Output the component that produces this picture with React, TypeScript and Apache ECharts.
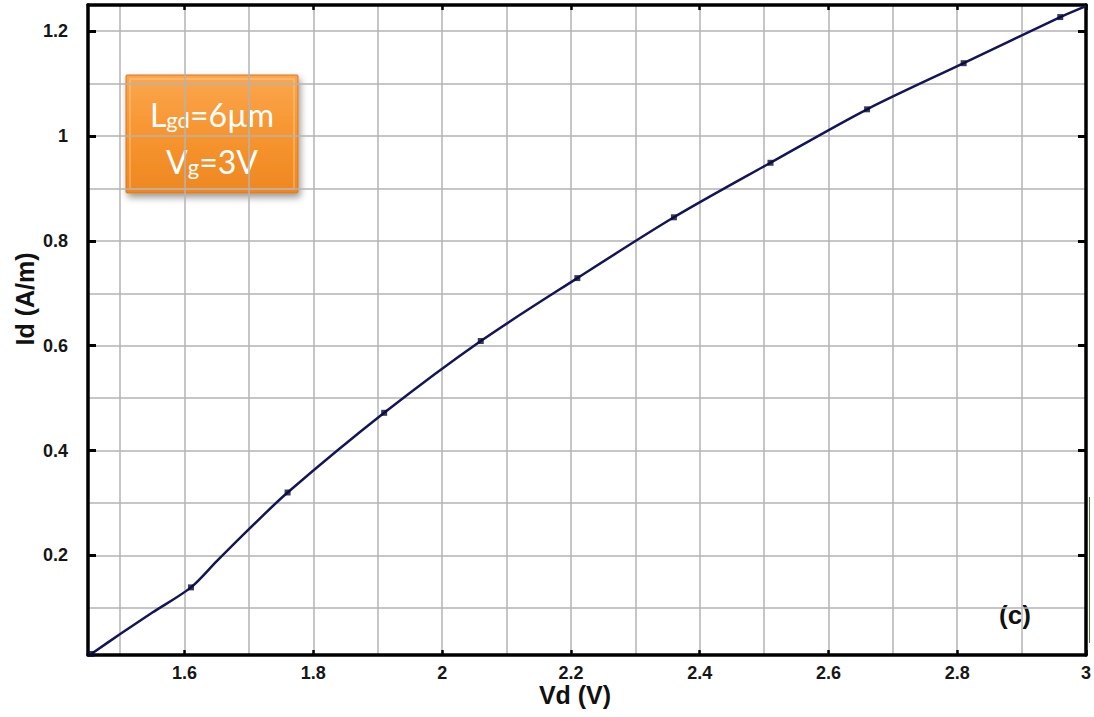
import React, { useEffect, useRef } from "react";
import * as echarts from "echarts";

// Simulated drain current curve (Vd in V, Id in A/m)
const vdCurve = [1.455, 1.5, 1.55, 1.61, 1.65, 1.7, 1.76, 1.91, 2.06, 2.21, 2.36, 2.51, 2.66, 2.81, 2.96, 3.0];
const idCurve = [0.012, 0.05, 0.091, 0.139, 0.189, 0.25, 0.32, 0.472, 0.609, 0.729, 0.845, 0.949, 1.051, 1.139, 1.227, 1.248];

// Sample markers along the curve
const vdMarkers = [1.455, 1.61, 1.76, 1.91, 2.06, 2.21, 2.36, 2.51, 2.66, 2.81, 2.96];
const idMarkers = [0.012, 0.139, 0.32, 0.472, 0.609, 0.729, 0.845, 0.949, 1.051, 1.139, 1.227];

// Axis ticks
const vdMajor = [1.6, 1.8, 2, 2.2, 2.4, 2.6, 2.8, 3];
const vdMinor = [1.5, 1.6, 1.7, 1.8, 1.9, 2, 2.1, 2.2, 2.3, 2.4, 2.5, 2.6, 2.7, 2.8, 2.9];
const idMajor = [0.2, 0.4, 0.6, 0.8, 1, 1.2];
const idMinor = [0.1, 0.2, 0.3, 0.4, 0.5, 0.6, 0.7, 0.8, 0.9, 1, 1.1, 1.2];

const X_MIN = 1.45;
const X_MAX = 3;
const Y_MIN = 0.01;
const Y_MAX = 1.25;

const labelStyle = {
  fontFamily: "Liberation Sans, Arial, sans-serif",
  fontWeight: "bold" as const,
  fontSize: 18,
  color: "#161616",
};

export default function App() {
  const ref = useRef<HTMLDivElement>(null);

  useEffect(() => {
    if (!ref.current) return;
    const chart = echarts.init(ref.current, undefined, { renderer: "svg" });

    const axisLine = { show: true, onZero: false, lineStyle: { color: "#000", width: 3.5 } };
    const boxFont = "Lato, Open Sans, sans-serif";

    const option = {
      animation: false,
      backgroundColor: "#ffffff",
      grid: { left: 88, right: 6, top: 5, bottom: 62, containLabel: false },
      xAxis: [
        {
          type: "value",
          min: X_MIN,
          max: X_MAX,
          position: "bottom",
          axisLine: { show: false },
          axisTick: { show: false, customValues: vdMinor },
          axisLabel: { show: false },
          splitLine: { show: true, lineStyle: { color: "#b3b3b3", width: 1.5 } },
        },
        {
          type: "value",
          min: X_MIN,
          max: X_MAX,
          position: "bottom",
          axisLine,
          axisTick: { show: true, inside: true, length: 5, customValues: vdMajor, lineStyle: { color: "#000", width: 2.5 } },
          axisLabel: { ...labelStyle, margin: 9, customValues: vdMajor, formatter: (v: number) => String(v) },
          splitLine: { show: false },
        },
        {
          type: "value",
          min: X_MIN,
          max: X_MAX,
          position: "top",
          axisLine,
          axisTick: { show: true, inside: true, length: 5, customValues: vdMajor, lineStyle: { color: "#000", width: 2.5 } },
          axisLabel: { show: false },
          splitLine: { show: false },
        },
      ],
      yAxis: [
        {
          type: "value",
          min: Y_MIN,
          max: Y_MAX,
          position: "left",
          axisLine: { show: false },
          axisTick: { show: false, customValues: idMinor },
          axisLabel: { show: false },
          splitLine: { show: true, lineStyle: { color: "#b3b3b3", width: 1.5 } },
        },
        {
          type: "value",
          min: Y_MIN,
          max: Y_MAX,
          position: "left",
          axisLine,
          axisTick: { show: true, inside: true, length: 8, customValues: idMajor, lineStyle: { color: "#000", width: 3 } },
          axisLabel: { ...labelStyle, margin: 20, customValues: idMajor, formatter: (v: number) => String(v) },
          splitLine: { show: false },
        },
        {
          type: "value",
          min: Y_MIN,
          max: Y_MAX,
          position: "right",
          axisLine,
          axisTick: { show: true, inside: true, length: 8, customValues: idMajor, lineStyle: { color: "#000", width: 3 } },
          axisLabel: { show: false },
          splitLine: { show: false },
        },
      ],
      series: [
        {
          type: "line",
          xAxisIndex: 1,
          yAxisIndex: 1,
          data: vdCurve.map((x, i) => [x, idCurve[i]]),
          showSymbol: false,
          smooth: 0.3,
          lineStyle: { color: "#14145a", width: 2.5 },
          z: 3,
        },
        {
          type: "scatter",
          xAxisIndex: 1,
          yAxisIndex: 1,
          data: vdMarkers.map((x, i) => [x, idMarkers[i]]),
          symbol: "rect",
          symbolSize: 6,
          itemStyle: { color: "#0a0a38" },
          z: 4,
        },
      ],
      graphic: [
        // y axis title
        {
          type: "text",
          x: 25,
          y: 299,
          rotation: Math.PI / 2,
          style: {
            text: "Id (A/m)",
            fontFamily: "Liberation Sans, Arial, sans-serif",
            fontWeight: "bold",
            fontSize: 25,
            fill: "#111",
            textAlign: "center",
            textVerticalAlign: "middle",
          },
        },
        // x axis title
        {
          type: "text",
          x: 575,
          y: 695,
          style: {
            text: "Vd (V)",
            fontFamily: "Liberation Sans, Arial, sans-serif",
            fontWeight: "bold",
            fontSize: 25,
            fill: "#111",
            textAlign: "center",
            textVerticalAlign: "middle",
          },
        },
        // panel label
        {
          type: "text",
          x: 1015,
          y: 615,
          style: {
            text: "(c)",
            fontFamily: "Liberation Sans, Arial, sans-serif",
            fontWeight: "bold",
            fontSize: 26,
            fill: "#111",
            textAlign: "center",
            textVerticalAlign: "middle",
          },
        },
        // green segment on right border
        {
          type: "rect",
          shape: { x: 1088.5, y: 497, width: 6, height: 146 },
          style: { fill: "#ffffff" },
          z: 20,
        },
        {
          type: "line",
          shape: { x1: 1089.5, y1: 497, x2: 1089.5, y2: 643 },
          style: { stroke: "#4a7a3a", lineWidth: 1 },
          z: 21,
        },
        // annotation box
        {
          type: "group",
          z: 30,
          children: [
            {
              type: "rect",
              shape: { x: 126, y: 75, width: 172, height: 118, r: 1 },
              style: {
                fill: new echarts.graphic.LinearGradient(0, 0, 0, 1, [
                  { offset: 0, color: "#fba64f" },
                  { offset: 0.5, color: "#f7952f" },
                  { offset: 1, color: "#ee8722" },
                ]),
                stroke: "#d9761c",
                lineWidth: 1,
                shadowBlur: 7,
                shadowOffsetX: 2,
                shadowOffsetY: 4,
                shadowColor: "rgba(0,0,0,0.4)",
              },
            },
            {
              type: "rect",
              shape: { x: 130, y: 79, width: 164, height: 110 },
              style: { fill: "none", stroke: "rgba(255,215,160,0.35)", lineWidth: 2 },
            },
            {
              type: "text",
              x: 212,
              y: 112,
              style: {
                text: "{a|L}{b|gd}{a|=6µm}",
                textAlign: "center",
                textVerticalAlign: "middle",
                rich: {
                  a: { fontFamily: boxFont, fontSize: 32, lineHeight: 36, verticalAlign: "bottom", fill: "#ffffff", color: "#ffffff" },
                  b: { fontFamily: boxFont, fontSize: 22, lineHeight: 22, verticalAlign: "bottom", fill: "#ffffff", color: "#ffffff" },
                },
              },
            },
            {
              type: "text",
              x: 212,
              y: 159,
              style: {
                text: "{a|V}{b|g}{a|=3V}",
                textAlign: "center",
                textVerticalAlign: "middle",
                rich: {
                  a: { fontFamily: boxFont, fontSize: 32, lineHeight: 36, verticalAlign: "bottom", fill: "#ffffff", color: "#ffffff" },
                  b: { fontFamily: boxFont, fontSize: 22, lineHeight: 22, verticalAlign: "bottom", fill: "#ffffff", color: "#ffffff" },
                },
              },
            },
          ],
        },
      ],
    };

    chart.setOption(option as any);
    return () => chart.dispose();
  }, []);

  return (
    <div
      ref={ref}
      style={{ position: "fixed", left: 0, top: 0, width: 1094, height: 717, background: "#fff" }}
    />
  );
}
